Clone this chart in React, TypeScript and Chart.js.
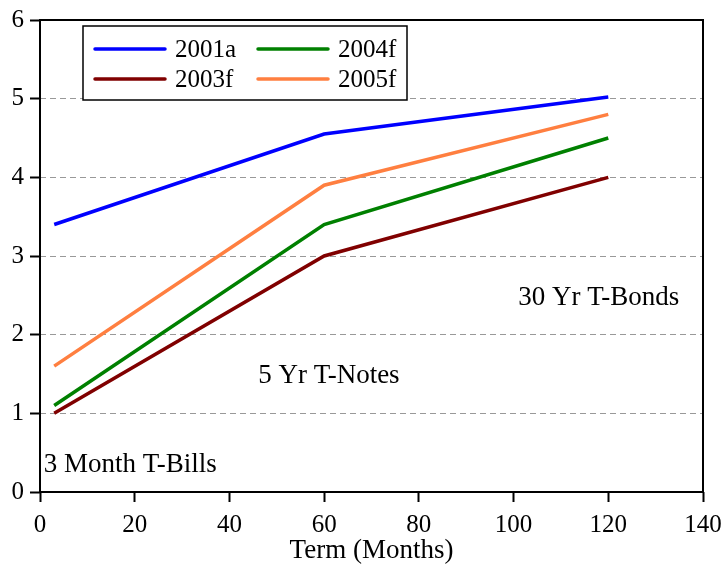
import React, { useEffect, useRef } from "react";
import { Chart, registerables } from "chart.js";

Chart.register(...registerables);

const terms = [3, 60, 120];
const s2001a = [3.4, 4.55, 5.02];
const s2003f = [1.0, 3.0, 4.0];
const s2004f = [1.1, 3.4, 4.5];
const s2005f = [1.6, 3.9, 4.8];
const seriesNames = ["2001a", "2003f", "2004f", "2005f"];
const seriesColors = ["#0000FF", "#800000", "#008000", "#FF7F40"];
const labelsText = [
  { text: "3 Month T-Bills", x: 0.8, y: 0.34, align: "left" },
  { text: "5 Yr T-Notes", x: 61, y: 1.47, align: "center" },
  { text: "30 Yr T-Bonds", x: 118, y: 2.47, align: "center" },
];

const FONT = "'Liberation Serif', 'Times New Roman', serif";

export default function App() {
  const ref = useRef<HTMLCanvasElement | null>(null);
  useEffect(() => {
    const allSeries = [s2001a, s2003f, s2004f, s2005f];
    const framePlugin = {
      id: "frame",
      afterDraw(chart: any) {
        const { ctx, chartArea: a, scales } = chart;
        ctx.save();
        ctx.fillStyle = "#000";
        ctx.font = `27px ${FONT}`;
        ctx.textBaseline = "middle";
        labelsText.forEach((l) => {
          ctx.textAlign = l.align as CanvasTextAlign;
          ctx.fillText(l.text, scales.x.getPixelForValue(l.x), scales.y.getPixelForValue(l.y));
        });
        ctx.strokeStyle = "#000";
        ctx.lineWidth = 2;
        ctx.strokeRect(a.left, a.top, a.right - a.left, a.bottom - a.top);
        const bx = 83, by = 26, bw = 324, bh = 74;
        ctx.fillStyle = "#fff";
        ctx.fillRect(bx, by, bw, bh);
        ctx.lineWidth = 1.5;
        ctx.strokeRect(bx, by, bw, bh);
        const pos = [
          [95, 49],
          [95, 79],
          [258, 49],
          [258, 79],
        ];
        ctx.font = `25px ${FONT}`;
        ctx.textAlign = "left";
        ctx.textBaseline = "middle";
        [0, 1, 2, 3].forEach((i, k) => {
          const [px, py] = pos[k];
          ctx.strokeStyle = seriesColors[i];
          ctx.lineWidth = 3.5;
          ctx.lineCap = "round";
          ctx.beginPath();
          ctx.moveTo(px, py);
          ctx.lineTo(px + 70, py);
          ctx.stroke();
          ctx.fillStyle = "#000";
          ctx.fillText(seriesNames[i], px + 80, py + 1);
        });
        ctx.restore();
      },
    };
    const chart = new Chart(ref.current as HTMLCanvasElement, {
      type: "line",
      data: {
        datasets: allSeries.map((s, i) => ({
          label: seriesNames[i],
          data: s.map((v, j) => ({ x: terms[j], y: v })),
          borderColor: seriesColors[i],
          backgroundColor: seriesColors[i],
          borderWidth: 3.5,
          pointRadius: 0,
          tension: 0,
        })),
      },
      options: {
        animation: false,
        responsive: false,
        layout: { padding: { top: 20, right: 24, left: 0, bottom: 0 } },
        plugins: { legend: { display: false }, tooltip: { enabled: false } },
        scales: {
          x: {
            type: "linear",
            min: 0,
            max: 140,
            afterFit: (s: any) => {
              s.height = 75;
              s.paddingLeft = 0;
              s.paddingRight = 0;
            },
            ticks: {
              stepSize: 20,
              color: "#000",
              font: { family: FONT, size: 25 },
              padding: 8,
              maxRotation: 0,
            },
            grid: {
              drawOnChartArea: false,
              drawTicks: true,
              tickLength: 10,
              tickColor: "#000",
              tickWidth: 2,
            },
            border: { display: false },
            title: {
              display: true,
              text: "Term (Months)",
              color: "#000",
              font: { family: FONT, size: 27 },
              padding: { top: 0, bottom: 0 },
            },
          },
          y: {
            min: 0,
            max: 6,
            afterFit: (s: any) => {
              s.width = 40;
              s.paddingTop = 0;
              s.paddingBottom = 0;
            },
            ticks: {
              stepSize: 1,
              color: "#000",
              font: { family: FONT, size: 25 },
              padding: 6,
            },
            grid: {
              color: "#999",
              lineWidth: 1,
              drawTicks: true,
              tickLength: 10,
              tickColor: "#000",
              tickWidth: 2,
              tickBorderDash: [],
            },
            border: { display: false, dash: [6, 4] },
          },
        },
      },
      plugins: [framePlugin],
    } as any);
    return () => chart.destroy();
  }, []);
  return (
    <div style={{ position: "fixed", left: 0, top: 0, width: 727, height: 567, background: "#fff" }}>
      <canvas ref={ref} width={727} height={567} style={{ width: 727, height: 567 }} />
    </div>
  );
}
